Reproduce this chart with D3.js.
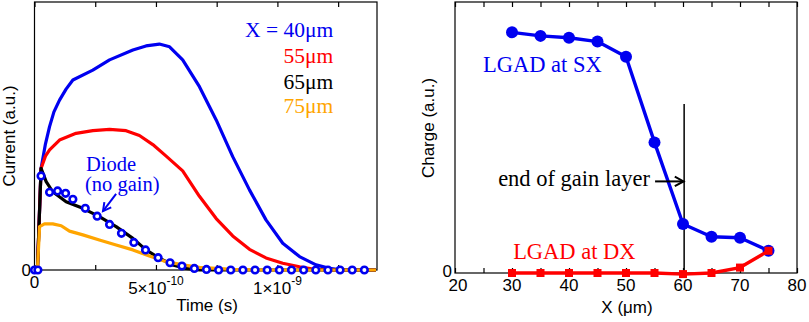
<!DOCTYPE html>
<html>
<head>
<meta charset="utf-8">
<script src="https://cdn.jsdelivr.net/npm/d3@7"></script>
<style>
  body { margin: 0; background: #fff; }
  svg { display: block; }
</style>
</head>
<body>
<div id="chart"></div>
<script>
// Left panel: current vs time, time in units of 1e-10 s
const t40 = [0, 0.12, 0.27, 0.45, 0.62, 0.80, 1.03, 1.30, 1.58, 2.40, 3.09, 4.05, 4.59, 5.14, 5.56, 6.10, 6.79, 7.48, 8.16, 8.85, 9.53, 10.22, 10.91, 11.59, 12.14, 12.69, 14.06];
const i40 = [0, 0, 0.379, 0.470, 0.535, 0.590, 0.634, 0.675, 0.709, 0.746, 0.784, 0.821, 0.836, 0.843, 0.833, 0.784, 0.684, 0.560, 0.423, 0.299, 0.187, 0.100, 0.050, 0.019, 0.006, 0, 0];

const t55 = [0, 0.12, 0.27, 0.45, 0.62, 1.03, 1.71, 2.40, 3.09, 3.77, 4.32, 4.87, 5.42, 6.10, 6.79, 7.48, 8.16, 8.85, 9.53, 10.22, 10.91, 11.59, 12.28, 14.06];
const i55 = [0, 0, 0.379, 0.425, 0.448, 0.485, 0.510, 0.520, 0.525, 0.520, 0.502, 0.468, 0.425, 0.370, 0.275, 0.192, 0.127, 0.077, 0.045, 0.025, 0.012, 0.002, 0, 0];

const t65 = [0, 0.12, 0.27, 0.48, 0.75, 1.30, 1.99, 2.67, 3.36, 4.05, 4.59, 5.14, 5.69, 6.24, 6.79, 14.06];
const i65 = [0, 0, 0.379, 0.330, 0.292, 0.255, 0.230, 0.199, 0.162, 0.118, 0.075, 0.044, 0.019, 0.006, 0, 0];

const t75 = [0, 0.12, 0.21, 0.41, 0.75, 1.10, 1.44, 1.99, 2.67, 3.36, 4.05, 4.73, 5.42, 6.10, 6.79, 8.16, 9.5, 14.06];
const i75 = [0, 0, 0.162, 0.172, 0.172, 0.165, 0.145, 0.131, 0.112, 0.093, 0.075, 0.052, 0.031, 0.019, 0.010, 0.002, 0, 0];

const tDiode = [0, 0.14, 0.27, 0.62, 0.95, 1.28, 1.58, 2.09, 2.58, 3.09, 3.58, 4.09, 4.57, 5.09, 5.58, 6.07, 6.58, 7.08, 7.58, 8.08, 8.58, 9.08, 9.58, 10.08, 10.58, 11.08, 11.58, 12.08, 12.58, 13.08, 13.58];
const iDiode = [0, 0, 0.351, 0.290, 0.295, 0.286, 0.264, 0.230, 0.201, 0.170, 0.137, 0.103, 0.075, 0.046, 0.027, 0.015, 0.006, 0.002, 0, 0, 0, 0, 0, 0, 0, 0, 0, 0, 0, 0, 0];

const timeTicks = [0, 2.5, 5, 7.5, 10, 12.5];
const timeLabels = [[0, "0", ""], [5, "5×10", "-10"], [10, "1×10", "-9"]];

const legendNames = ["X = 40μm", "55μm", "65μm", "75μm"];

// Right panel: charge vs position
const posX = [30, 35, 40, 45, 50, 55, 60, 65, 70, 75];
const chargeSX = [0.888, 0.875, 0.868, 0.854, 0.798, 0.482, 0.181, 0.134, 0.130, 0.082];
const chargeDX = [0, 0, 0, 0, 0, 0, -0.004, 0, 0.020, 0.082];

const posTicks = d3.range(20, 81, 5);
const posLabels = [20, 30, 40, 50, 60, 70, 80];

const blue = "#0000f0", red = "#ff0000", orange = "#ffa500";
const sans = "'Liberation Sans', Arial, sans-serif";
const serif = "'Liberation Serif', 'Times New Roman', serif";

const svg = d3.select("#chart").append("svg")
  .attr("width", 809)
  .attr("height", 322);

const zip = (xs, ys) => xs.map((x, i) => [x, ys[i]]);

// ---------- left panel ----------
const xL = d3.scaleLinear().domain([0, 14.1]).range([34.5, 377]);
const yL = d3.scaleLinear().domain([0, 1]).range([270, 2]);

const left = svg.append("g");

left.append("rect")
  .attr("x", xL(0)).attr("y", yL(1))
  .attr("width", xL(14.1) - xL(0)).attr("height", yL(0) - yL(1))
  .attr("fill", "none").attr("stroke", "#000").attr("stroke-width", 1.2);

const botL = left.append("g")
  .attr("transform", `translate(0,${yL(0)})`)
  .call(d3.axisBottom(xL).tickValues(timeTicks).tickSizeInner(-5).tickSizeOuter(0).tickFormat(""));
botL.select(".domain").remove();
const topL = left.append("g")
  .attr("transform", `translate(0,${yL(1)})`)
  .call(d3.axisTop(xL).tickValues(timeTicks).tickSizeInner(-5).tickSizeOuter(0).tickFormat(""));
topL.select(".domain").remove();
left.selectAll(".tick line").attr("stroke-width", 1.2);

timeLabels.forEach(([v, base, exp]) => {
  const t = left.append("text")
    .attr("x", xL(v)).attr("y", v === 0 ? 288 : 294)
    .attr("text-anchor", "middle")
    .attr("font-family", sans).attr("font-size", 17);
  t.append("tspan").text(base);
  if (exp) {
    t.append("tspan").attr("dy", -9).attr("font-size", 12).text(exp);
  }
});

left.append("text")
  .attr("x", 31).attr("y", yL(0) + 6)
  .attr("text-anchor", "end")
  .attr("font-family", sans).attr("font-size", 17)
  .text("0");

left.append("text")
  .attr("x", 207).attr("y", 311)
  .attr("text-anchor", "middle")
  .attr("font-family", sans).attr("font-size", 17)
  .text("Time (s)");

left.append("text")
  .attr("transform", `translate(15,136) rotate(-90)`)
  .attr("text-anchor", "middle")
  .attr("font-family", sans).attr("font-size", 17)
  .text("Current (a.u.)");

const lineL = d3.line().x(d => xL(d[0])).y(d => yL(d[1]));

const curves = [
  [t40, i40, blue],
  [t55, i55, red],
  [t65, i65, "#000"],
  [t75, i75, orange]
];
curves.forEach(([t, v, c]) => {
  left.append("path")
    .datum(zip(t, v))
    .attr("d", lineL)
    .attr("fill", "none")
    .attr("stroke", c)
    .attr("stroke-width", 3.2)
    .attr("stroke-linejoin", "round");
});

left.selectAll(".diode")
  .data(zip(tDiode, iDiode))
  .enter().append("circle")
  .attr("class", "diode")
  .attr("cx", d => xL(d[0]))
  .attr("cy", d => yL(d[1]))
  .attr("r", 3.3)
  .attr("fill", "#fff")
  .attr("stroke", blue)
  .attr("stroke-width", 2.6);

// legend
const legendColors = [blue, red, "#000", orange];
const legendY = [0.869, 0.772, 0.675, 0.586];
legendNames.forEach((n, i) => {
  left.append("text")
    .attr("x", xL(12.3)).attr("y", yL(legendY[i]))
    .attr("text-anchor", "end")
    .attr("font-family", serif).attr("font-size", 21.5)
    .attr("fill", legendColors[i])
    .text(n);
});

// diode annotation
left.append("text")
  .attr("x", xL(2.12)).attr("y", yL(0.369))
  .attr("font-family", serif).attr("font-size", 20.5)
  .attr("fill", blue)
  .text("Diode");
left.append("text")
  .attr("x", xL(2.08)).attr("y", yL(0.295))
  .attr("font-family", serif).attr("font-size", 20.5)
  .attr("fill", blue)
  .text("(no gain)");

function arrow(g, x1, y1, x2, y2, color, head) {
  g.append("line")
    .attr("x1", x1).attr("y1", y1).attr("x2", x2).attr("y2", y2)
    .attr("stroke", color).attr("stroke-width", 2);
  const a = Math.atan2(y2 - y1, x2 - x1);
  const s = 0.5;
  const p = [
    [x2 - head * Math.cos(a - s), y2 - head * Math.sin(a - s)],
    [x2, y2],
    [x2 - head * Math.cos(a + s), y2 - head * Math.sin(a + s)]
  ];
  g.append("path")
    .attr("d", d3.line()(p))
    .attr("fill", "none").attr("stroke", color).attr("stroke-width", 2);
}
arrow(left, xL(3.36), yL(0.284), xL(2.82), yL(0.220), blue, 9);

// ---------- right panel ----------
const xR = d3.scaleLinear().domain([20, 80]).range([455, 797]);
const yR = d3.scaleLinear().domain([0, 1]).range([273, 2]);

const right = svg.append("g");

right.append("rect")
  .attr("x", xR(20)).attr("y", yR(1))
  .attr("width", xR(80) - xR(20)).attr("height", yR(0) - yR(1))
  .attr("fill", "none").attr("stroke", "#000").attr("stroke-width", 1.2);

const botR = right.append("g")
  .attr("transform", `translate(0,${yR(0)})`)
  .call(d3.axisBottom(xR).tickValues(posTicks).tickSizeInner(-5).tickSizeOuter(0).tickFormat(""));
botR.select(".domain").remove();
const topR = right.append("g")
  .attr("transform", `translate(0,${yR(1)})`)
  .call(d3.axisTop(xR).tickValues(posTicks).tickSizeInner(-5).tickSizeOuter(0).tickFormat(""));
topR.select(".domain").remove();
right.selectAll(".tick line").attr("stroke-width", 1.2);

posLabels.forEach(v => {
  right.append("text")
    .attr("x", xR(v) + (v === 20 ? 3 : 0)).attr("y", 291)
    .attr("text-anchor", "middle")
    .attr("font-family", sans).attr("font-size", 17)
    .text(v);
});

right.append("text")
  .attr("x", 452).attr("y", yR(0) + 4)
  .attr("text-anchor", "end")
  .attr("font-family", sans).attr("font-size", 17)
  .text("0");

right.append("text")
  .attr("x", 627).attr("y", 313)
  .attr("text-anchor", "middle")
  .attr("font-family", sans).attr("font-size", 17)
  .text("X (μm)");

right.append("text")
  .attr("transform", `translate(434,128) rotate(-90)`)
  .attr("text-anchor", "middle")
  .attr("font-family", sans).attr("font-size", 17)
  .text("Charge (a.u.)");

// end of gain layer marker
right.append("line")
  .attr("x1", xR(60.2)).attr("x2", xR(60.2))
  .attr("y1", yR(0)).attr("y2", yR(0.624))
  .attr("stroke", "#000").attr("stroke-width", 1.5);

const lineR = d3.line().x(d => xR(d[0])).y(d => yR(d[1]));

right.append("path")
  .datum(zip(posX, chargeSX))
  .attr("d", lineR)
  .attr("fill", "none").attr("stroke", blue).attr("stroke-width", 3.4)
  .attr("stroke-linejoin", "round");
right.selectAll(".sx")
  .data(zip(posX, chargeSX))
  .enter().append("circle")
  .attr("class", "sx")
  .attr("cx", d => xR(d[0]))
  .attr("cy", d => yR(d[1]))
  .attr("r", 6)
  .attr("fill", blue);

right.append("path")
  .datum(zip(posX, chargeDX))
  .attr("d", lineR)
  .attr("fill", "none").attr("stroke", red).attr("stroke-width", 3.4)
  .attr("stroke-linejoin", "round");
right.selectAll(".dx")
  .data(zip(posX, chargeDX))
  .enter().append("rect")
  .attr("class", "dx")
  .attr("x", d => xR(d[0]) - 4)
  .attr("y", d => yR(d[1]) - 4)
  .attr("width", 8).attr("height", 8)
  .attr("fill", red);

right.append("text")
  .attr("x", xR(24.9)).attr("y", yR(0.742))
  .attr("font-family", serif).attr("font-size", 22.5)
  .attr("fill", blue)
  .text("LGAD at SX");

right.append("text")
  .attr("x", xR(30.2)).attr("y", yR(0.050))
  .attr("font-family", serif).attr("font-size", 22.5)
  .attr("fill", red)
  .text("LGAD at DX");

right.append("text")
  .attr("x", xR(54.2)).attr("y", yR(0.321))
  .attr("text-anchor", "end")
  .attr("font-family", serif).attr("font-size", 22.5)
  .attr("fill", "#000")
  .text("end of gain layer");

arrow(right, xR(55.1), yR(0.338), xR(60.1), yR(0.338), "#000", 10);
</script>
</body>
</html>
